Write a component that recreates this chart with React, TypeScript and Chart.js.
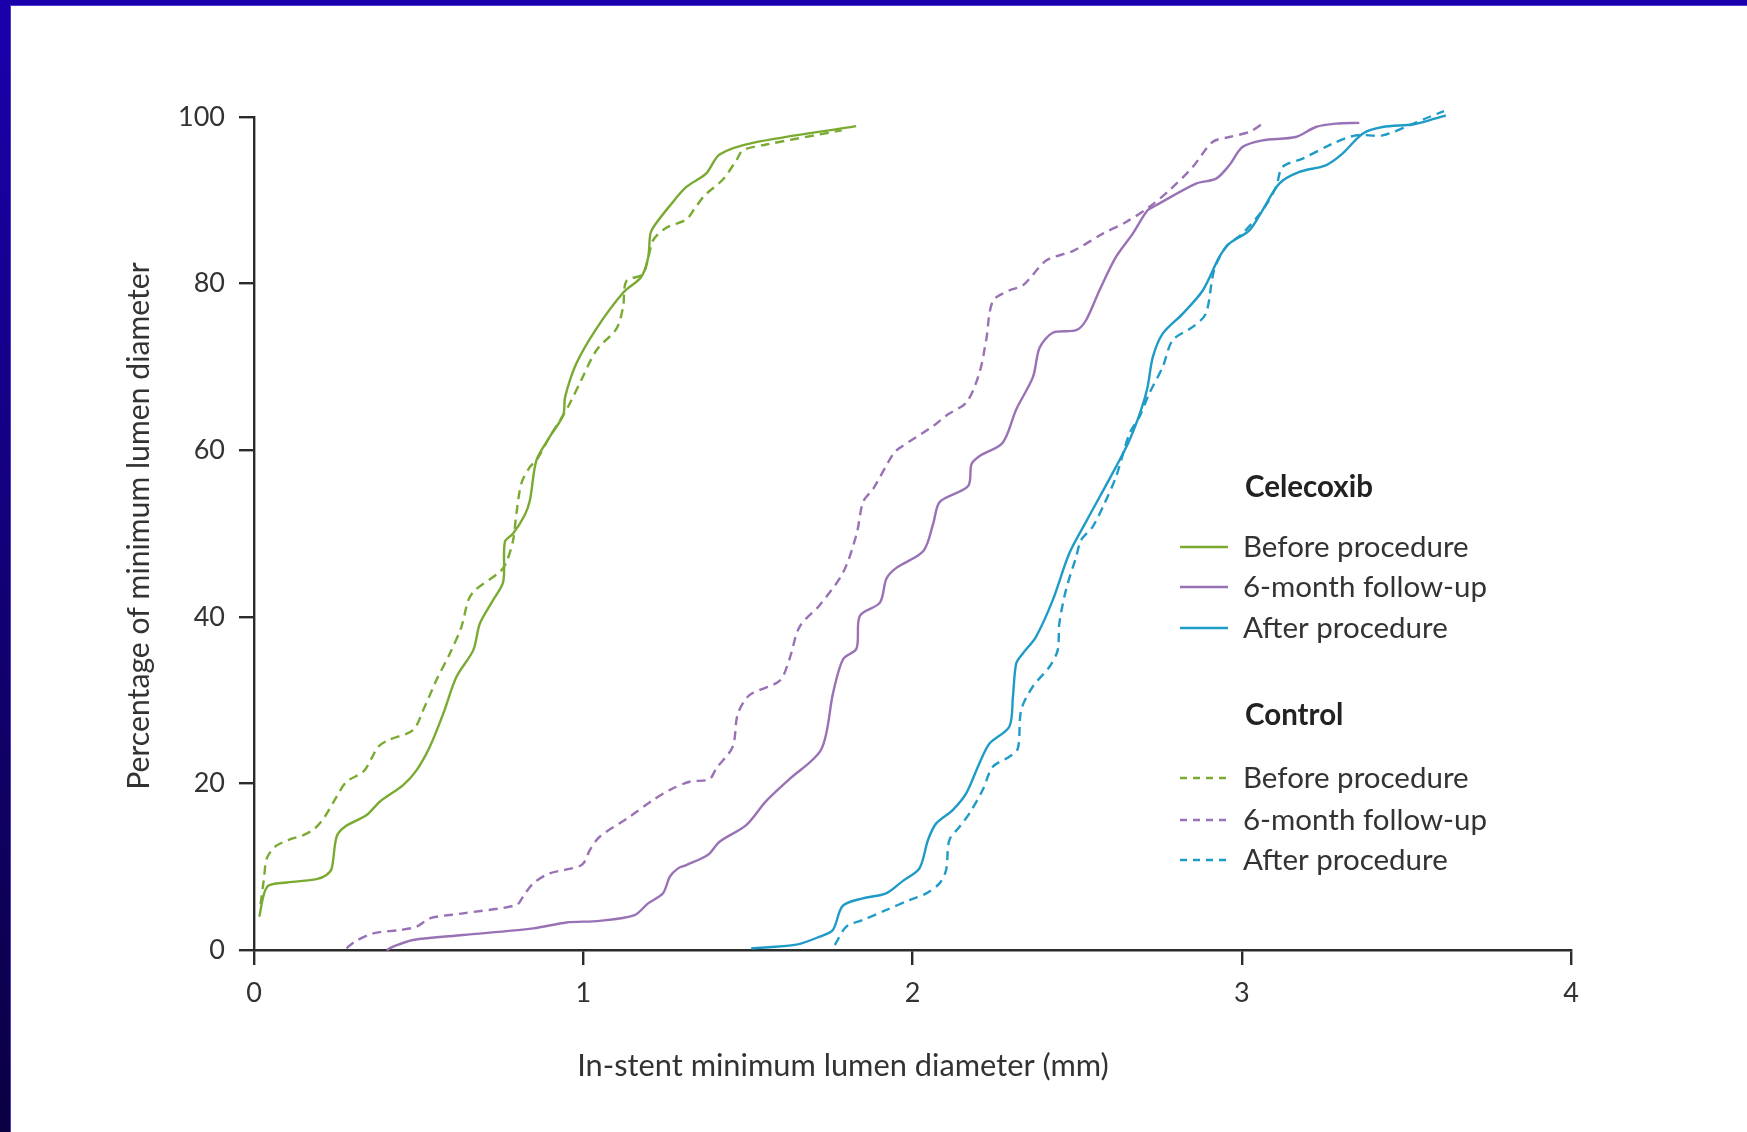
import React, { useEffect, useRef } from "react";
import { Chart, registerables } from "chart.js";
Chart.register(...registerables);

// ---- axis ticks ----
const xTicks = [0, 1, 2, 3, 4];
const yTicks = [0, 20, 40, 60, 80, 100];
const xTitle = "In-stent minimum lumen diameter (mm)";
const yTitle = "Percentage of minimum lumen diameter";

// ---- legend ----
const groupNames = ["Celecoxib", "Control"];
const seriesNames = ["Before procedure", "6-month follow-up", "After procedure"];
const seriesColors = ["#7aaa32", "#9972b5", "#1f9bc7"];

// ---- Celecoxib: before procedure (solid green) ----
const celBeforeX = [0.016, 0.04, 0.1, 0.19, 0.22, 0.236, 0.251, 0.276, 0.342, 0.382, 0.453, 0.494, 0.534, 0.575, 0.615, 0.666, 0.686, 0.726, 0.757, 0.762, 0.787, 0.822, 0.838, 0.858, 0.898, 0.939, 0.945, 0.979, 1.04, 1.121, 1.176, 1.197, 1.204, 1.217, 1.262, 1.313, 1.373, 1.414, 1.515, 1.829];
const celBeforeY = [4.0, 7.6, 8.1, 8.5, 9.0, 9.8, 13.6, 14.8, 16.2, 17.8, 19.8, 21.6, 24.4, 28.4, 32.8, 36, 39.2, 42, 44.2, 49, 50, 52.2, 54, 58.8, 61.6, 64.2, 66.4, 70.4, 74.6, 78.9, 80.8, 83.1, 86.0, 87.0, 89.3, 91.6, 93.2, 95.5, 96.9, 98.9];

// ---- Celecoxib: 6-month follow-up (solid purple) ----
const cel6mX = [0.403, 0.423, 0.483, 0.635, 0.848, 0.949, 1.05, 1.156, 1.197, 1.242, 1.263, 1.288, 1.313, 1.378, 1.414, 1.495, 1.556, 1.626, 1.723, 1.759, 1.789, 1.83, 1.84, 1.901, 1.921, 1.952, 2.033, 2.063, 2.083, 2.169, 2.179, 2.204, 2.274, 2.315, 2.366, 2.386, 2.426, 2.497, 2.527, 2.568, 2.618, 2.669, 2.714, 2.74, 2.861, 2.922, 2.962, 3.002, 3.063, 3.164, 3.225, 3.286, 3.357];
const cel6mY = [0, 0.4, 1.2, 1.8, 2.6, 3.3, 3.5, 4.2, 5.6, 6.8, 8.8, 9.8, 10.2, 11.4, 13.0, 15.0, 17.9, 20.5, 24.1, 30.9, 34.9, 36.2, 40.1, 41.7, 44.6, 45.9, 47.9, 51.2, 53.8, 55.7, 58.3, 59.3, 60.9, 64.9, 68.8, 72.3, 74.1, 74.4, 75.6, 79.2, 83.2, 86, 88.8, 89.4, 92, 92.6, 94.2, 96.4, 97.2, 97.6, 98.8, 99.2, 99.3];

// ---- Celecoxib: after procedure (solid blue) ----
const celAfterX = [1.51, 1.647, 1.718, 1.758, 1.788, 1.849, 1.92, 1.971, 2.021, 2.047, 2.072, 2.122, 2.163, 2.203, 2.234, 2.294, 2.305, 2.315, 2.335, 2.375, 2.426, 2.476, 2.527, 2.618, 2.659, 2.694, 2.714, 2.73, 2.76, 2.821, 2.882, 2.932, 2.962, 3.023, 3.063, 3.114, 3.175, 3.255, 3.306, 3.367, 3.428, 3.519, 3.569, 3.62];
const celAfterY = [0.2, 0.64, 1.6, 2.4, 5.3, 6.2, 6.8, 8.3, 9.8, 13.2, 15.2, 16.8, 18.8, 22.4, 24.8, 26.8, 30.4, 34.4, 35.6, 37.6, 42, 47.6, 51.4, 58, 61.2, 64.8, 67.6, 71.2, 74, 76.4, 79.2, 83.2, 84.8, 86.4, 88.8, 92, 93.4, 94.2, 95.6, 98, 98.8, 99.1, 99.6, 100.2];

// ---- Control: before procedure (dashed green) ----
const ctlBeforeX = [0.02, 0.03, 0.039, 0.064, 0.104, 0.15, 0.185, 0.215, 0.251, 0.281, 0.332, 0.357, 0.377, 0.408, 0.483, 0.514, 0.554, 0.595, 0.63, 0.651, 0.671, 0.747, 0.767, 0.787, 0.797, 0.812, 0.838, 0.858, 0.898, 0.939, 0.959, 0.995, 1.04, 1.101, 1.121, 1.131, 1.18, 1.197, 1.212, 1.252, 1.313, 1.338, 1.369, 1.424, 1.465, 1.485, 1.556, 1.785];
const ctlBeforeY = [5.5, 8.5, 11.0, 12.4, 13.2, 13.8, 14.6, 16.0, 18.4, 20.2, 21.4, 23.0, 24.4, 25.2, 26.4, 28.8, 32.4, 35.6, 38.8, 42, 43.2, 45.4, 46.6, 49.2, 52.4, 56, 58, 58.8, 61.6, 64.2, 65.6, 68.5, 72, 74.6, 77.2, 80.3, 81.1, 83, 85.2, 86.7, 87.7, 89, 90.6, 92.5, 94.8, 96, 96.7, 98.4];

// ---- Control: 6-month follow-up (dashed purple) ----
const ctl6mX = [0.281, 0.306, 0.362, 0.443, 0.494, 0.534, 0.635, 0.797, 0.817, 0.848, 0.898, 0.995, 1.02, 1.05, 1.141, 1.212, 1.262, 1.323, 1.383, 1.404, 1.454, 1.469, 1.505, 1.596, 1.626, 1.657, 1.718, 1.789, 1.83, 1.85, 1.881, 1.942, 1.962, 2.063, 2.104, 2.165, 2.204, 2.224, 2.244, 2.295, 2.336, 2.407, 2.487, 2.578, 2.649, 2.719, 2.78, 2.851, 2.911, 2.962, 3.023, 3.063];
const ctl6mY = [0.2, 1.0, 2.0, 2.4, 2.8, 3.8, 4.4, 5.4, 6.4, 8.0, 9.2, 10.2, 12.0, 13.6, 16.0, 18.0, 19.2, 20.2, 20.5, 21.8, 24.4, 28.3, 30.6, 32.3, 34.9, 38.8, 41.4, 45.3, 49.9, 53.8, 55.4, 59.6, 60.3, 62.9, 64.2, 65.8, 69.4, 73.3, 77.9, 79.2, 79.8, 82.8, 83.9, 86.0, 87.4, 89.2, 91.2, 94, 97, 97.6, 98.2, 99.2];

// ---- Control: after procedure (dashed blue) ----
const ctlAfterX = [1.764, 1.799, 1.849, 1.92, 1.991, 2.042, 2.082, 2.102, 2.112, 2.143, 2.173, 2.213, 2.244, 2.294, 2.32, 2.33, 2.365, 2.416, 2.441, 2.446, 2.466, 2.497, 2.512, 2.547, 2.583, 2.618, 2.659, 2.689, 2.719, 2.76, 2.79, 2.851, 2.891, 2.916, 2.952, 3.002, 3.063, 3.104, 3.124, 3.185, 3.276, 3.347, 3.428, 3.509, 3.569, 3.614];
const ctlAfterY = [0.6, 2.8, 3.6, 4.8, 6.0, 6.8, 8.0, 9.6, 13.2, 14.8, 16.4, 19.2, 22, 23.2, 24.2, 28.8, 31.6, 34, 36, 39.2, 43.2, 47.2, 49.2, 50.8, 53.6, 56.8, 62, 64, 66.8, 70, 73.2, 74.8, 76.4, 81.6, 84.4, 86, 88.8, 91.6, 94, 95, 96.8, 97.8, 97.8, 99, 100, 100.7];

const FONT = "Lato";
const TEXT = "#333333";
const AXIS = "#2b2b2b";
const DASH = [9, 6];

function pts(xs: number[], ys: number[]) {
  return xs.map((x, i) => ({ x, y: ys[i] }));
}

function ds(label: string, xs: number[], ys: number[], color: string, dashed: boolean) {
  return {
    label,
    data: pts(xs, ys),
    showLine: true,
    borderColor: color,
    backgroundColor: color,
    borderWidth: 2.4,
    borderDash: dashed ? DASH : [],
    pointRadius: 0,
    pointHoverRadius: 0,
    tension: 0.3,
    fill: false,
    clip: false as any,
  };
}

const overlayPlugin = {
  id: "overlay",
  afterDraw(chart: any) {
    const ctx: CanvasRenderingContext2D = chart.ctx;
    ctx.save();
    ctx.fillStyle = TEXT;
    ctx.textBaseline = "middle";
    // axis titles
    ctx.font = `30.8px ${FONT}`;
    ctx.textAlign = "center";
    ctx.fillText(xTitle, 843, 1066);
    ctx.save();
    ctx.translate(139, 526);
    ctx.rotate(-Math.PI / 2);
    ctx.font = `30.2px ${FONT}`;
    ctx.fillText(yTitle, 0, 0);
    ctx.restore();

    // legend
    const headY = [487, 715];
    const rowY = [
      [547, 587, 628],
      [778, 820, 860],
    ];
    groupNames.forEach((g, gi) => {
      ctx.font = `bold 29.5px ${FONT}`;
      ctx.textAlign = "left";
      ctx.fillStyle = "#222222";
      ctx.fillText(g, 1245, headY[gi]);
      seriesNames.forEach((s, si) => {
        const y = rowY[gi][si];
        ctx.beginPath();
        ctx.strokeStyle = seriesColors[si];
        ctx.lineWidth = 2.4;
        ctx.setLineDash(gi === 1 ? [7, 6] : []);
        ctx.moveTo(1180, y);
        ctx.lineTo(1228, y);
        ctx.stroke();
        ctx.setLineDash([]);
        ctx.font = `29.5px ${FONT}`;
        ctx.fillStyle = TEXT;
        ctx.fillText(s, 1243, y);
      });
    });
    ctx.restore();
  },
};

export default function App() {
  const ref = useRef<HTMLCanvasElement | null>(null);
  useEffect(() => {
    if (!ref.current) return;
    const tickFont = { family: FONT, size: 27 };
    const chart = new Chart(ref.current, {
      type: "scatter",
      data: {
        datasets: [
          ds("Celecoxib " + seriesNames[0], celBeforeX, celBeforeY, seriesColors[0], false),
          ds("Celecoxib " + seriesNames[1], cel6mX, cel6mY, seriesColors[1], false),
          ds("Celecoxib " + seriesNames[2], celAfterX, celAfterY, seriesColors[2], false),
          ds("Control " + seriesNames[0], ctlBeforeX, ctlBeforeY, seriesColors[0], true),
          ds("Control " + seriesNames[1], ctl6mX, ctl6mY, seriesColors[1], true),
          ds("Control " + seriesNames[2], ctlAfterX, ctlAfterY, seriesColors[2], true),
        ] as any,
      },
      options: {
        animation: false,
        responsive: true,
        maintainAspectRatio: false,
        events: [],
        layout: { padding: { left: 0, right: 176, top: 117, bottom: 0 } },
        plugins: { legend: { display: false }, tooltip: { enabled: false }, title: { display: false } },
        scales: {
          x: {
            type: "linear",
            min: 0,
            max: 4,
            afterBuildTicks: (s: any) => {
              s.ticks = xTicks.map((v) => ({ value: v }));
            },
            afterFit: (s: any) => {
              s.height = 182;
            },
            ticks: { font: tickFont, color: TEXT, padding: 12 },
            grid: { drawOnChartArea: false, drawTicks: true, tickLength: 15, color: AXIS, lineWidth: 2.4 },
            border: { display: true, color: AXIS, width: 2.4 },
          },
          y: {
            type: "linear",
            min: 0,
            max: 100,
            afterBuildTicks: (s: any) => {
              s.ticks = yTicks.map((v) => ({ value: v }));
            },
            afterFit: (s: any) => {
              s.width = 254;
            },
            ticks: { font: tickFont, color: TEXT, padding: 14 },
            grid: { drawOnChartArea: false, drawTicks: true, tickLength: 15, color: AXIS, lineWidth: 2.4 },
            border: { display: true, color: AXIS, width: 2.4 },
          },
        },
      },
      plugins: [overlayPlugin],
    });
    if ((document as any).fonts && (document as any).fonts.load) {
      Promise.all([
        (document as any).fonts.load(`30px ${FONT}`),
        (document as any).fonts.load(`bold 30px ${FONT}`),
      ]).then(() => chart.update()).catch(() => {});
    }
    return () => chart.destroy();
  }, []);

  return (
    <div
      style={{
        position: "fixed",
        left: 0,
        top: 0,
        width: 1747,
        height: 1132,
        background: "linear-gradient(to bottom, #1a00ad, #0a0042)",
        overflow: "hidden",
      }}
    >
      <div
        style={{
          position: "absolute",
          left: 10,
          top: 5,
          right: 0,
          bottom: 0,
          background: "#ffffff",
          borderLeft: "1px solid #4a3cd0",
          borderTop: "1px solid #4a3cd0",
        }}
      />
      <div style={{ position: "absolute", left: 0, top: 0, width: 1747, height: 1132 }}>
        <canvas ref={ref} />
      </div>
    </div>
  );
}
